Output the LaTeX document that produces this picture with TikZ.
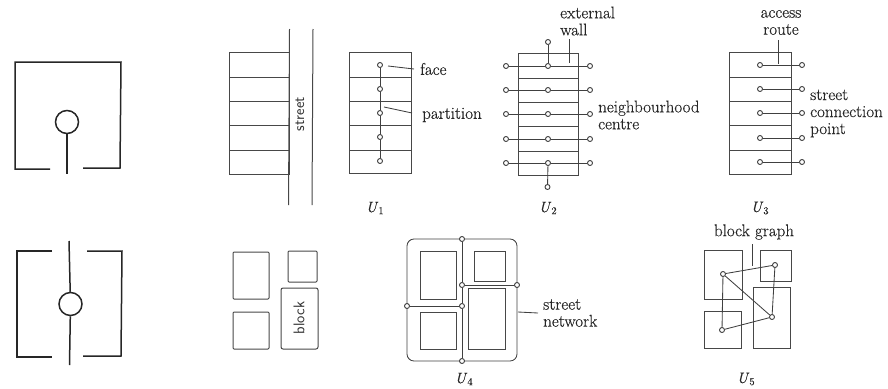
\documentclass[tikz,border=0pt]{standalone}
\usepackage{fontspec}
\setmainfont{Latin Modern Roman}[FakeBold=0.35]
\tikzset{
  wallline/.style={line width=1.5pt,draw=black!85},
  thinline/.style={line width=1pt,draw=black!72},
  linkline/.style={line width=0.85pt,draw=black!75},
  jnode/.style={circle,draw=black!75,line width=0.9pt,fill=white,inner sep=0pt,minimum size=5pt},
  hubnode/.style={circle,draw=black!85,line width=1.5pt,inner sep=0pt,minimum size=23pt},
  labnode/.style={inner sep=0pt,text=black!85,font=\fontsize{17}{17}\selectfont,anchor=west,align=left},
  ulabel/.style={inner sep=0pt,text=black!85,font=\fontsize{15}{17}\selectfont},
  sidelabel/.style={inner sep=0pt,text=black!80,rotate=90,font=\fontsize{15.5}{17}\selectfont\sffamily},
}
\newcommand{\Ucap}[1]{\textit{U}\textsubscript{#1}}
\begin{document}
\begin{tikzpicture}[x=1pt,y=-1pt]
\useasboundingbox (0,0) rectangle (888,388);
% icon 1
\draw[wallline] (50,169) -- (15,169) -- (15,62) -- (121,62) -- (120,168) -- (83,168);
\node[hubnode] (h1) at (67,122) {};
\coordinate (h1s) at (67,174);
\draw[wallline] (h1) -- (h1s);
% icon 2
\draw[wallline] (52,251) -- (17,251) -- (17,357) -- (52,357);
\draw[wallline] (87,251) -- (122,251) -- (121,356) -- (83,356);
\node[hubnode] (h2) at (70.5,304) {};
\coordinate (h2t) at (69,241);
\coordinate (h2b) at (69.5,365);
\draw[wallline] (h2t) -- (h2);
\draw[wallline] (h2) -- (h2b);
% street row
\draw[thinline] (229,52) rectangle (289,174);
\foreach \y in {77,101,125,150} \draw[thinline] (229,\y) -- (289,\y);
\draw[thinline] (289.5,29) -- (288.5,205);
\draw[thinline] (313,29) -- (312,205);
\node[sidelabel] (streetlab) at (300,114) {street};
% blocks
\draw[thinline,rounded corners=1pt] (233,252) rectangle (269,299);
\draw[thinline,rounded corners=1pt] (233,312) rectangle (269,349);
\draw[thinline,rounded corners=1pt] (288,251) rectangle (317,282);
\draw[thinline,rounded corners=2pt] (281,288) rectangle (318,349);
\node[sidelabel] (blocklab) at (299,318) {block};
% U1
\draw[thinline] (349,52) rectangle (411,173);
\foreach \y in {77,101,125,150} \draw[thinline] (349,\y) -- (411,\y);
\foreach \i/\y in {1/65,2/89,3/113,4/137,5/161} \node[jnode] (a\i) at (380,\y) {};
\draw[linkline] (a1) -- (a2); \draw[linkline] (a2) -- (a3); \draw[linkline] (a3) -- (a4); \draw[linkline] (a4) -- (a5);
\node[labnode] (face) at (420,69) {face};
\node[labnode] (partition) at (422,115) {partition};
\coordinate (facep) at (388,66);
\coordinate (faceq) at (414,69);
\coordinate (partp) at (384,107);
\coordinate (partq) at (412,113);
\draw[linkline] (facep) -- (faceq);
\draw[linkline] (partp) -- (partq);
\node[ulabel] (u1) at (375,208) {\Ucap{1}};
% U2
\draw[thinline] (518,53) rectangle (578,175);
\foreach \y in {78,102,126,151} \draw[thinline] (518,\y) -- (578,\y);
\foreach \i/\y in {1/66,2/90,3/114,4/139,5/163} {
  \node[jnode] (bl\i) at (506,\y) {};
  \node[jnode] (bc\i) at (548,\y) {};
  \node[jnode] (br\i) at (590,\y) {};
  \draw[linkline] (bl\i) -- (bc\i);
  \draw[linkline] (bc\i) -- (br\i);
}
\node[jnode] (btop) at (548,42) {};
\node[jnode] (bbot) at (547.5,187) {};
\draw[linkline] (btop) -- (bc1);
\draw[linkline] (bc5) -- (bbot);
\node[labnode] (ext) at (560,21) {external\\wall};
\coordinate (exta) at (569,39);
\coordinate (extb) at (569,63);
\draw[linkline] (exta) -- (extb);
\node[labnode] (nc) at (598,115) {neighbourhood\\centre};
\node[ulabel] (u2) at (548,208) {\Ucap{2}};
% U3
\draw[thinline] (729,52) rectangle (791,174);
\foreach \y in {77,101,125,150} \draw[thinline] (729,\y) -- (791,\y);
\foreach \i/\y in {1/65,2/89,3/113,4/138,5/162} {
  \node[jnode] (cl\i) at (760,\y) {};
  \node[jnode] (cr\i) at (802,\y) {};
  \draw[linkline] (cl\i) -- (cr\i);
}
\node[labnode,anchor=center,align=center] (acc) at (781,22.5) {access\\route};
\coordinate (acca) at (778,40);
\coordinate (accb) at (778,64);
\draw[linkline] (acca) -- (accb);
\node[labnode] (scp) at (810,113.5) {street\\connection\\point};
\node[ulabel] (u3) at (760,208) {\Ucap{3}};
% U4
\draw[linkline,rounded corners=7pt] (407,239) rectangle (517,361);
\draw[thinline] (420,251) rectangle (456,299);
\draw[thinline] (420,312) rectangle (456,349);
\draw[thinline] (474,251) rectangle (505,281);
\draw[thinline] (468,288) rectangle (505,349);
\node[jnode] (d1) at (462,239) {};
\node[jnode] (d2) at (462,285) {};
\node[jnode] (d3) at (517,285) {};
\node[jnode] (d4) at (407,306) {};
\node[jnode] (d5) at (462,306) {};
\node[jnode] (d6) at (462,361) {};
\draw[linkline] (d1) -- (d2); \draw[linkline] (d2) -- (d5); \draw[linkline] (d5) -- (d6);
\draw[linkline] (d2) -- (d3); \draw[linkline] (d4) -- (d5);
\node[labnode] (sn) at (543,313) {street\\network};
\coordinate (sna) at (518,312);
\coordinate (snb) at (538,313);
\draw[linkline] (sna) -- (snb);
\node[ulabel] (u4) at (464,379) {\Ucap{4}};
% U5
\draw[thinline] (704,250) rectangle (742,299);
\draw[thinline] (704,311) rectangle (741,348);
\draw[thinline] (760,250) rectangle (791,281);
\draw[thinline] (753,287) rectangle (790,348);
\node[jnode] (e1) at (723,274) {};
\node[jnode] (e2) at (775,265) {};
\node[jnode] (e3) at (772,317) {};
\node[jnode] (e4) at (722,330) {};
\draw[linkline] (e1) -- (e2); \draw[linkline] (e1) -- (e3); \draw[linkline] (e1) -- (e4);
\draw[linkline] (e2) -- (e3); \draw[linkline] (e4) -- (e3);
\node[labnode,anchor=center] (bg) at (754,232) {block graph};
\coordinate (bga) at (752,244);
\coordinate (bgb) at (752,266);
\draw[linkline] (bga) -- (bgb);
\node[ulabel] (u5) at (746,379) {\Ucap{5}};
\end{tikzpicture}
\end{document}
